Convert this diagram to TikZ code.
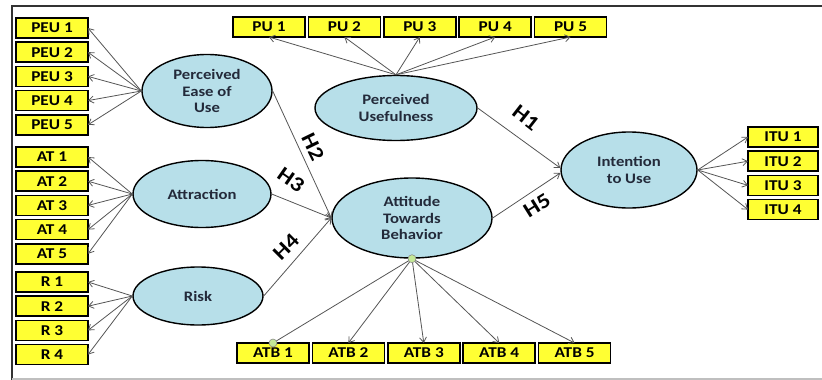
\documentclass[tikz,border=0pt]{standalone}
\usepackage{fontspec}
\setmainfont{Carlito}[FakeStretch=1.15]
\usetikzlibrary{shapes.geometric, arrows.meta, positioning}
\definecolor{boxYellow}{RGB}{255,255,51}
\definecolor{latBlue}{RGB}{183,223,233}
\definecolor{dotGreen}{RGB}{196,232,150}
\definecolor{arrGray}{RGB}{85,85,85}
\definecolor{latText}{RGB}{35,42,58}
\tikzset{
  sem/ind/.style={rectangle, draw=black, fill=boxYellow,
    minimum width=72pt, minimum height=20pt, inner sep=0pt, outer sep=0pt,
    line width=1.6pt, font=\fontsize{15}{16}\selectfont\bfseries},
  sem/lat/.style={ellipse, draw=black, fill=latBlue, inner sep=0pt,
    line width=1.4pt, align=center, text=latText,
    font=\fontsize{14.5}{16.8}\selectfont\bfseries},
  sem/arr/.style={-{Straight Barb[length=5pt,width=7pt]}, line width=0.8pt,
    draw=arrGray},
  sem/hyp/.style={font=\fontsize{21}{22}\selectfont\bfseries, inner sep=0pt},
  sem/dot/.style={circle, draw=black!45, fill=dotGreen, minimum size=8pt,
    inner sep=0pt, line width=0.6pt}
}
\begin{document}
\begin{tikzpicture}[x=1pt, y=-1pt, node distance=4.2pt and 3.4pt]
  \useasboundingbox (0,0) rectangle (822,380);
  % frame
  \draw[line width=2pt, black!80] (822,6) -- (12,6) -- (12,380);
  \draw[line width=1.5pt, black!25] (12,379) -- (822,379);

  % latent variables
  \node[sem/lat, minimum width=130pt, minimum height=73pt] (peu) at (207,91)
        {Perceived\\Ease of\\Use};
  \node[sem/lat, minimum width=138pt, minimum height=67pt] (att) at (202,194)
        {Attraction};
  \node[sem/lat, minimum width=130pt, minimum height=58pt] (risk) at (198,296)
        {Risk};
  \node[sem/lat, minimum width=162pt, minimum height=65pt] (pu) at (396,108)
        {Perceived\\Usefulness};
  \node[sem/lat, minimum width=160pt, minimum height=80pt] (atb) at (412,218)
        {Attitude\\Towards\\Behavior};
  \node[sem/lat, minimum width=136pt, minimum height=76pt] (itu) at (629,170)
        {Intention\\to Use};

  % indicators
  \node[sem/ind] (peu1) at (52,28) {PEU 1};
  \node[sem/ind, below=of peu1] (peu2) {PEU 2};
  \node[sem/ind, below=of peu2] (peu3) {PEU 3};
  \node[sem/ind, below=of peu3] (peu4) {PEU 4};
  \node[sem/ind, below=of peu4] (peu5) {PEU 5};
  \node[sem/ind] (at1) at (52,157) {AT 1};
  \node[sem/ind, below=of at1] (at2) {AT 2};
  \node[sem/ind, below=of at2] (at3) {AT 3};
  \node[sem/ind, below=of at3] (at4) {AT 4};
  \node[sem/ind, below=of at4] (at5) {AT 5};
  \node[sem/ind] (r1) at (52,282) {R 1};
  \node[sem/ind, below=of r1] (r2) {R 2};
  \node[sem/ind, below=of r2] (r3) {R 3};
  \node[sem/ind, below=of r3] (r4) {R 4};
  \node[sem/ind] (pu1) at (269,27) {PU 1};
  \node[sem/ind, right=of pu1] (pu2) {PU 2};
  \node[sem/ind, right=of pu2] (pu3) {PU 3};
  \node[sem/ind, right=of pu3] (pu4) {PU 4};
  \node[sem/ind, right=of pu4] (pu5) {PU 5};
  \node[sem/ind] (atb1) at (273,353) {ATB 1};
  \node[sem/ind, right=of atb1] (atb2) {ATB 2};
  \node[sem/ind, right=of atb2] (atb3) {ATB 3};
  \node[sem/ind, right=of atb3] (atb4) {ATB 4};
  \node[sem/ind, right=of atb4] (atb5) {ATB 5};
  \node[sem/ind, minimum width=70pt] (itu1) at (783,137) {ITU 1};
  \node[sem/ind, minimum width=70pt, below=of itu1] (itu2) {ITU 2};
  \node[sem/ind, minimum width=70pt, below=of itu2] (itu3) {ITU 3};
  \node[sem/ind, minimum width=70pt, below=of itu3] (itu4) {ITU 4};

  % loadings
  \draw[sem/arr] (peu.west) -- (peu1.east);
  \draw[sem/arr] (peu.west) -- (peu2.east);
  \draw[sem/arr] (peu.west) -- (peu3.east);
  \draw[sem/arr] (peu.west) -- (peu4.east);
  \draw[sem/arr] (peu.west) -- (peu5.east);
  \draw[sem/arr] (att.west) -- (at1.east);
  \draw[sem/arr] (att.west) -- (at2.east);
  \draw[sem/arr] (att.west) -- (at3.east);
  \draw[sem/arr] (att.west) -- (at4.east);
  \draw[sem/arr] (att.west) -- (at5.east);
  \draw[sem/arr] (risk.west) -- (r1.east);
  \draw[sem/arr] (risk.west) -- (r2.east);
  \draw[sem/arr] (risk.west) -- (r3.east);
  \draw[sem/arr] (risk.west) -- (r4.east);
  \draw[sem/arr] (pu.north) -- (pu1.south);
  \draw[sem/arr] (pu.north) -- (pu2.south);
  \draw[sem/arr] (pu.north) -- (pu3.south);
  \draw[sem/arr] (pu.north) -- (pu4.south);
  \draw[sem/arr] (pu.north) -- (pu5.south);
  \draw[line width=0.8pt, draw=arrGray] (atb.south) -- (atb1.north);
  \draw[sem/arr] (atb.south) -- (atb2.north);
  \draw[sem/arr] (atb.south) -- (atb3.north);
  \draw[sem/arr] (atb.south) -- (atb4.north);
  \draw[sem/arr] (atb.south) -- (atb5.north);
  \draw[sem/arr] (itu.east) -- (itu1.west);
  \draw[sem/arr] (itu.east) -- (itu2.west);
  \draw[sem/arr] (itu.east) -- (itu3.west);
  \draw[sem/arr] (itu.east) -- (itu4.west);
  \node[sem/dot] (dtop) at (atb.south) {};
  \node[sem/dot] (dbot) at (atb1.north) {};

  % hypotheses
  \draw[sem/arr] (peu.east) -- (atb.west);
  \draw[sem/arr] (att.east) -- (atb.west);
  \draw[sem/arr] (risk.east) -- (atb.west);
  \draw[sem/arr] (pu.east) -- ([yshift=2pt]itu.west);
  \draw[sem/arr] (atb.east) -- ([yshift=-3pt]itu.west);
  \node[sem/hyp, rotate=-64] (h2) at (313,147) {H2};
  \node[sem/hyp, rotate=-35] (h3) at (291,180) {H3};
  \node[sem/hyp, rotate=45] (h4) at (286,247) {H4};
  \node[sem/hyp, rotate=-38] (h1) at (526,118) {H1};
  \node[sem/hyp, rotate=32] (h5) at (537,206) {H5};
\end{tikzpicture}
\end{document}
